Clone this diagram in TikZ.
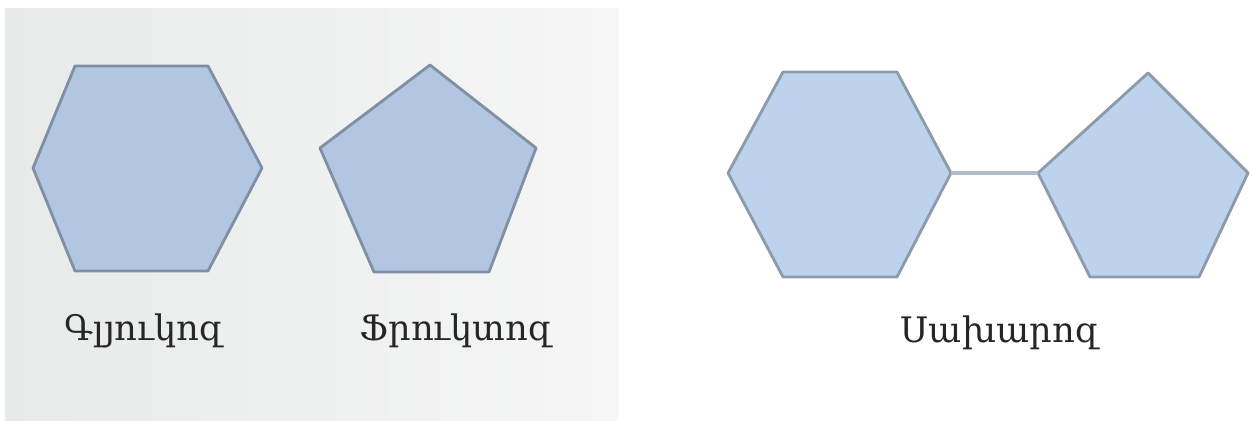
\documentclass[tikz,border=0pt]{standalone}
\usepackage{fontspec}
\setmainfont{DejaVu Serif}
\usetikzlibrary{positioning}
\definecolor{panelgray}{RGB}{232,234,234}
\definecolor{panelfade}{RGB}{246,246,246}
\definecolor{ringfill}{RGB}{178,198,226}
\definecolor{ringfillb}{RGB}{189,210,237}
\definecolor{ringedge}{RGB}{128,144,164}
\definecolor{ringedgeb}{RGB}{140,154,170}
\definecolor{bondline}{RGB}{172,188,200}

\begin{document}
\begin{tikzpicture}[x=0.02cm,y=-0.02cm,
  ring/.style={fill=ringfill,draw=ringedge,line width=1.6pt,line join=round},
  ringb/.style={ring,fill=ringfillb,draw=ringedgeb},
  sugarlabel/.style={font=\fontsize{20}{24}\selectfont,text=black!85,inner sep=0pt}]
\useasboundingbox (0,0) rectangle (1253,420);
\fill[white] (0,0) rectangle (1253,420);
\shade[left color=panelgray,right color=panelfade] (5,8) rectangle (618,420);
\draw[ring] (75,66) -- (208,66) -- (262,168) -- (208,271) -- (75,271) -- (33,168) -- cycle;
\draw[ring] (430,65) -- (536,148) -- (489,272) -- (374,272) -- (320,148) -- cycle;
\node[sugarlabel] (glucose) at (144,331) {Գլյուկոզ};
\node[sugarlabel] (fructose) at (456,331) {Ֆրուկտոզ};
\draw[ringb] (783,72) -- (897,72) -- (951,173) -- (897,277) -- (783,277) -- (728,173) -- cycle;
\draw[ringb] (1148,73) -- (1248,173) -- (1199,277) -- (1090,277) -- (1038,173) -- cycle;
\coordinate (hexright) at (951,173);
\coordinate (pentleft) at (1038,173);
\draw[bondline,line width=2pt] (hexright) -- (pentleft);
\node[sugarlabel] (sucrose) at (1000,333) {Սախարոզ};
\end{tikzpicture}
\end{document}
